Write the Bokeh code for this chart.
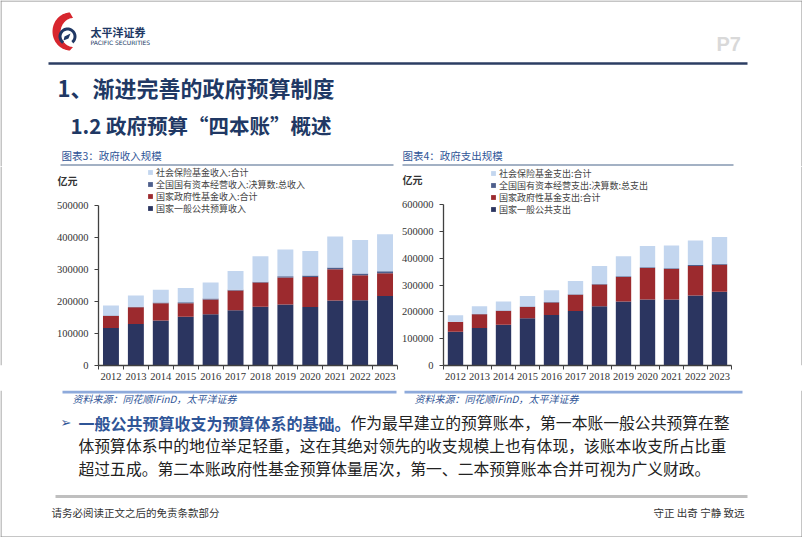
import numpy as np
from bokeh.plotting import figure
from bokeh.models import (ColumnDataSource, Range1d, FixedTicker, Legend, LegendItem,
                          LinearAxis, NumeralTickFormatter)
from bokeh.layouts import column, row
from bokeh.core.properties import value
from bokeh.embed import file_html
from bokeh.resources import INLINE

# ---------------- data (亿元) ----------------
years = [2012, 2013, 2014, 2015, 2016, 2017, 2018, 2019, 2020, 2021, 2022, 2023]

rev_general = [117254, 129210, 140370, 152269, 159605, 172593, 183360, 190390, 182914, 202555, 203703, 216795]
rev_fund = [37517, 52269, 54113, 42338, 46643, 61480, 75405, 84518, 93489, 98024, 77879, 70705]
rev_capital = [1496, 1713, 2008, 2551, 2609, 2581, 2900, 3960, 4778, 5180, 5689, 6744]
rev_social = [30739, 35253, 39828, 44660, 50112, 58438, 79255, 83000, 76000, 97000, 104000, 115000]

exp_general = [125953, 140212, 151786, 175878, 187755, 203085, 220904, 238858, 245679, 246322, 260552, 274574]
exp_fund = [36069, 50500, 51463, 42347, 46851, 60700, 80602, 91365, 117999, 113661, 110583, 101339]
exp_capital = [929, 1562, 2014, 2079, 2171, 2015, 2159, 2295, 2557, 2625, 3395, 3100]
exp_social = [23932, 28744, 33669, 39117, 43605, 49000, 67000, 75000, 79000, 85000, 91500, 99500]

rev_labels = ["国家一般公共预算收入", "国家政府性基金收入:合计",
              "全国国有资本经营收入:决算数:总收入", "社会保险基金收入:合计"]
exp_labels = ["国家一般公共支出", "国家政府性基金支出:合计",
              "全国国有资本经营支出:决算数:总支出", "社会保险基金支出:合计"]

rev_ticks = [0, 100000, 200000, 300000, 400000, 500000]
exp_ticks = [0, 100000, 200000, 300000, 400000, 500000, 600000]
unit_text = "亿元"

COLORS = ["#2b3560", "#9c2a2e", "#4e5f8c", "#c3d6ef"]
CJK = "Noto Sans CJK SC"
SERIF = "Liberation Serif"
NAVY = "#203864"
BLUE = "#2f5597"
BORDER = "#8c8c8c"
ROW_TOP = 166
ROW_H = 224


def make_chart(general, fund, capital, social, labels, ticks, y_end, width,
               left_b, right_b, bottom_b, leg_x, row_centers, unit_val):
    src = ColumnDataSource(dict(year=years, general=general, fund=fund,
                                capital=capital, social=social))
    p = figure(width=width, height=ROW_H, x_range=Range1d(2011.5, 2023.5),
               y_range=Range1d(0, y_end), output_backend="svg", toolbar_location=None,
               min_border_left=left_b, min_border_right=right_b,
               min_border_top=0, min_border_bottom=bottom_b)
    rs = p.vbar_stack(["general", "fund", "capital", "social"], x="year", width=0.64,
                      color=COLORS, line_color=None, source=src)
    p.grid.visible = False
    p.outline_line_color = None

    xa = p.xaxis[0]
    xa.ticker = FixedTicker(ticks=years, minor_ticks=[y - 0.5 for y in years] + [2023.5])
    xa.major_tick_line_color = None
    xa.major_tick_out = 4
    xa.major_tick_in = 0
    xa.minor_tick_out = 4
    xa.minor_tick_in = 0
    xa.minor_tick_line_color = "#404040"
    xa.axis_line_color = "#404040"
    xa.axis_line_width = 1.3
    xa.major_label_standoff = 3
    xa.major_label_text_font = SERIF
    xa.major_label_text_font_size = "10.5px"
    xa.major_label_text_color = "#333333"

    ya = p.yaxis[0]
    ya.ticker = FixedTicker(ticks=ticks)
    ya.formatter = NumeralTickFormatter(format="0")
    ya.bounds = (0, ticks[-1])
    ya.major_tick_out = 4
    ya.major_tick_in = 0
    ya.minor_tick_line_color = None
    ya.major_tick_line_color = "#404040"
    ya.axis_line_color = "#404040"
    ya.axis_line_width = 1.3
    ya.major_label_standoff = 6
    ya.major_label_text_font = SERIF
    ya.major_label_text_font_size = "10.5px"
    ya.major_label_text_color = "#333333"

    # unit label "亿元" as an outer, line-less axis with one labelled tick
    ua = LinearAxis(ticker=FixedTicker(ticks=[unit_val]),
                    major_label_overrides={unit_val: unit_text},
                    axis_line_color=None, major_tick_line_color=None,
                    minor_tick_line_color=None, major_tick_out=0, major_tick_in=0,
                    minor_tick_out=0, minor_tick_in=0, major_label_standoff=-24,
                    major_label_text_font=CJK, major_label_text_font_size="10px",
                    major_label_text_font_style="bold", major_label_text_color="#333333")
    p.add_layout(ua, "left")

    # legend: one row per Legend so the rows can sit as tightly as in the reference
    frame_bottom = ROW_TOP + ROW_H - bottom_b
    for idx, yc in zip((3, 2, 1, 0), row_centers):
        leg = Legend(items=[LegendItem(label=labels[idx], renderers=[rs[idx]])],
                     location=(leg_x, frame_bottom - yc - 6.5), orientation="vertical",
                     label_text_font=CJK, label_text_font_size="9px",
                     label_text_color="#444444", label_height=10, glyph_height=6,
                     glyph_width=6, spacing=0, padding=0, margin=0, label_standoff=3,
                     border_line_color=None, background_fill_alpha=0)
        p.add_layout(leg)
    return p


LEG_ROWS = [173, 185, 197, 209]

# chart 1: frame 98..397 x 166..366 (32.2 px per 100000)
p1 = make_chart(rev_general, rev_fund, rev_capital, rev_social, rev_labels, rev_ticks,
                621000, 350, 50, 1, 24, 49, LEG_ROWS, 577600)
# chart 2: frame 443..731 x 166..365 (26.83 px per 100000)
p2 = make_chart(exp_general, exp_fund, exp_capital, exp_social, exp_labels, exp_ticks,
                741700, 336, 45, 3, 25, 47, LEG_ROWS, 693000)


def blank(width, height, y_top, y_bottom):
    f = figure(width=width, height=height, x_range=Range1d(0, width),
               y_range=Range1d(y_bottom, y_top), output_backend="svg",
               toolbar_location=None, min_border=0, x_axis_type=None, y_axis_type=None)
    f.grid.visible = False
    f.outline_line_color = None
    return f


# ---------------- header (page coords) ----------------
hdr = blank(802, ROW_TOP, 0, ROW_TOP)
hdr.segment(x0=[0.5, 801.5, 0], y0=[0, 0, 0.5], x1=[0.5, 801.5, 802], y1=[ROW_TOP, ROW_TOP, 0.5],
            line_color=BORDER, line_width=1)

# logo
th = np.linspace(np.radians(92), np.radians(268), 50)
ox = 70 + 18 * np.cos(th)
oy = 31 - 19 * np.sin(th)
ix = 73 + 13 * np.cos(th[::-1])
iy = 32 - 14.5 * np.sin(th[::-1])
hdr.patch(list(ox) + list(ix), list(oy) + list(iy), fill_color="#d7262e", line_color=None)
th2 = np.linspace(np.radians(-50), np.radians(235), 40)
ax_o = 67 + 9 * np.cos(th2)
ay_o = 36 - 9 * np.sin(th2)
ax_i = 67 + 6 * np.cos(th2[::-1])
ay_i = 36 - 6 * np.sin(th2[::-1])
hdr.patch(list(ax_o) + list(ax_i), list(ay_o) + list(ay_i), fill_color=NAVY, line_color=None)
hdr.patch([64, 70, 68, 63], [36, 33, 38, 40], fill_color=NAVY, line_color=None)

hdr.text(x=[90], y=[31], text=["太平洋证券"], text_font=value(CJK), text_font_size="11px",
         text_font_style="bold", text_color=NAVY, text_baseline="middle")
hdr.text(x=[90], y=[42], text=["PACIFIC  SECURITIES"], text_font=value("DejaVu Sans"),
         text_font_size="6px", text_color=NAVY, text_baseline="middle")
hdr.text(x=[716], y=[43], text=["P7"], text_font=value("Liberation Sans"), text_font_size="20px",
         text_font_style="bold", text_color="#d9d9d9", text_baseline="middle")
hdr.line(x=[48, 747], y=[63, 63], line_width=2.5, line_color="#2c3e63")

hdr.text(x=[57], y=[86], text=["1、渐进完善的政府预算制度"], text_font=value(CJK),
         text_font_size="22px", text_font_style="bold", text_color=NAVY, text_baseline="middle")
hdr.text(x=[70], y=[124], text=["1.2 政府预算“四本账”概述"], text_font=value(CJK),
         text_font_size="20.5px", text_font_style="bold", text_color=NAVY, text_baseline="middle")

hdr.text(x=[61, 402], y=[155, 155], text=["图表3：政府收入规模", "图表4：政府支出规模"],
         text_font=value(CJK), text_font_size="10.5px", text_color=BLUE, text_baseline="middle")
hdr.segment(x0=[60, 402], y0=[164.5, 164.5], x1=[393, 733], y1=[164.5, 164.5],
            line_width=1.5, line_color="#8497b0")

# ---------------- side fillers in chart row ----------------
left_f = blank(48, ROW_H, 0, ROW_H)
left_f.segment(x0=[0.5], y0=[0], x1=[0.5], y1=[ROW_H], line_color=BORDER, line_width=1)
right_f = blank(68, ROW_H, 0, ROW_H)
right_f.segment(x0=[67.5], y0=[0], x1=[67.5], y1=[ROW_H], line_color=BORDER, line_width=1)

# ---------------- footer (page coords) ----------------
FT = ROW_TOP + ROW_H
ftr = blank(802, 537 - FT, FT, 537)
ftr.x_range = Range1d(0, 802)
ftr.segment(x0=[0.5, 801.5, 0], y0=[FT, FT, 536.5], x1=[0.5, 801.5, 802], y1=[537, 537, 536.5],
            line_color=BORDER, line_width=1)

ftr.segment(x0=[62, 404], y0=[391.5, 391.5], x1=[396, 742], y1=[391.5, 391.5],
            line_width=3, line_color="#8eaadb")
ftr.text(x=[72, 414], y=[398, 398], text=["资料来源：同花顺iFinD，太平洋证券"] * 2,
         text_font=value(CJK), text_font_size="10px", text_font_style="italic",
         text_color=BLUE, text_baseline="middle")

ftr.text(x=[60], y=[422], text=["➢"], text_font=value("DejaVu Sans"), text_font_size="13px",
         text_color=BLUE, text_baseline="middle")
ftr.text(x=[78], y=[422], text=["一般公共预算收支为预算体系的基础。"], text_font=value(CJK),
         text_font_size="16px", text_font_style="bold", text_color=BLUE, text_baseline="middle")
ftr.text(x=[350], y=[422], text=["作为最早建立的预算账本，第一本账一般公共预算在整"],
         text_font=value(CJK), text_font_size="15.8px", text_color="#222222", text_baseline="middle")
ftr.text(x=[78, 78], y=[445, 468],
         text=["体预算体系中的地位举足轻重，这在其绝对领先的收支规模上也有体现，该账本收支所占比重",
               "超过五成。第二本账政府性基金预算体量居次，第一、二本预算账本合并可视为广义财政。"],
         text_font=value(CJK), text_font_size="15.8px", text_color="#222222", text_baseline="middle")

ftr.line(x=[55, 747], y=[496, 496], line_width=3, line_color="#bfbfbf")
ftr.text(x=[51], y=[512], text=["请务必阅读正文之后的免责条款部分"], text_font=value(CJK),
         text_font_size="10.5px", text_color="#333333", text_baseline="middle")
ftr.text(x=[744], y=[512], text=["守正 出奇 宁静 致远"], text_font=value(CJK),
         text_font_size="10.5px", text_color="#333333", text_baseline="middle", text_align="right")

layout = column(hdr, row(left_f, p1, p2, right_f), ftr)

open("out.html", "w").write(file_html(layout, INLINE))
